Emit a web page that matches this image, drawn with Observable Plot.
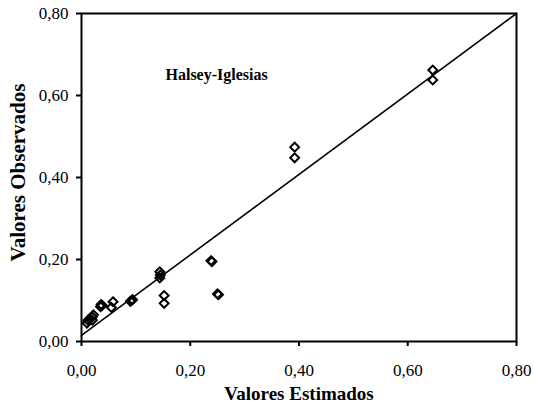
<!DOCTYPE html>
<html>
<head>
<meta charset="utf-8">
<script src="https://cdn.jsdelivr.net/npm/d3@7"></script>
<script src="https://cdn.jsdelivr.net/npm/@observablehq/plot@0.6"></script>
<style>
  html, body { margin: 0; padding: 0; background: #fff; }
  #chart svg { font-family: "Liberation Serif", "DejaVu Serif", serif; }
</style>
</head>
<body>
<div id="chart"></div>
<script>
// Estimated (x) and observed (y) values
const estimados = [0.010, 0.012, 0.015, 0.020, 0.022, 0.020, 0.035, 0.038, 0.036, 0.055, 0.058, 0.090, 0.092, 0.094, 0.144, 0.145, 0.144, 0.152, 0.152, 0.238, 0.240, 0.250, 0.252, 0.392, 0.392, 0.646, 0.646];
const observados = [0.045, 0.052, 0.055, 0.060, 0.065, 0.052, 0.085, 0.088, 0.090, 0.083, 0.097, 0.098, 0.100, 0.102, 0.170, 0.162, 0.155, 0.112, 0.093, 0.197, 0.195, 0.116, 0.114, 0.474, 0.448, 0.662, 0.638];
// Fitted line endpoints
const lineX = [0, 0.8];
const lineY = [0.015, 0.8];
const ticks = [0, 0.2, 0.4, 0.6, 0.8];
const title = "Halsey-Iglesias";
const xLabel = "Valores Estimados";
const yLabel = "Valores Observados";

const pts = estimados.map((x, i) => ({x, y: observados[i]}));
const line = lineX.map((x, i) => ({x, y: lineY[i]}));
const fmt = d => d.toFixed(2).replace(".", ",");

const chart = Plot.plot({
  width: 534,
  height: 412,
  marginLeft: 81,
  marginRight: 18,
  marginTop: 13,
  marginBottom: 71,
  style: {fontFamily: "Liberation Serif", fontSize: "17px", color: "#000", background: "#fff"},
  x: {domain: [0, 0.8]},
  y: {domain: [0, 0.8]},
  marks: [
    Plot.axisX({ticks, tickFormat: fmt, tickSize: 5, tickPadding: 17, strokeWidth: 2, label: null, fontSize: 17}),
    Plot.axisY({ticks, tickFormat: fmt, tickSize: 5, tickPadding: 8, strokeWidth: 2, label: null, fontSize: 17}),
    Plot.frame({stroke: "#000", strokeWidth: 2}),
    Plot.line(line, {x: "x", y: "y", stroke: "#000", strokeWidth: 1.6}),
    Plot.dot(pts, {x: "x", y: "y", symbol: "diamond2", r: 4, stroke: "#000", strokeWidth: 2, fill: "none"}),
    Plot.text([title], {frameAnchor: "top-left", dx: 84, dy: 55, textAnchor: "start", fontWeight: "bold", fontSize: 16}),
    Plot.text([xLabel], {frameAnchor: "bottom", dy: 58, textAnchor: "middle", fontWeight: "bold", fontSize: 19}),
    Plot.text([yLabel], {frameAnchor: "left", dx: -63, dy: -5, textAnchor: "middle", rotate: -90, fontWeight: "bold", fontSize: 21})
  ]
});
document.getElementById("chart").appendChild(chart);
</script>
</body>
</html>
